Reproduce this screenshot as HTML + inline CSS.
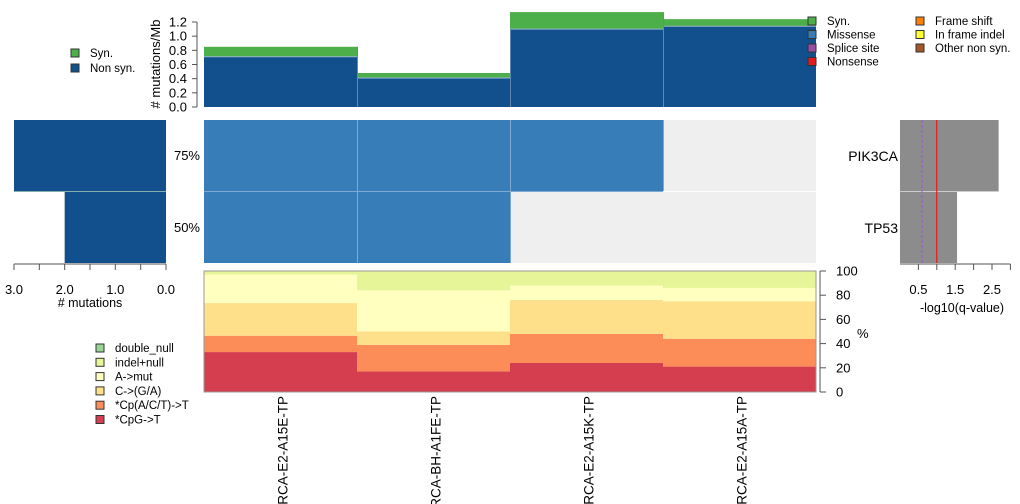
<!DOCTYPE html>
<html><head><meta charset="utf-8"><style>
body{margin:0;background:#fff;}
svg{display:block;font-family:"Liberation Sans",sans-serif;}
</style></head><body>
<svg id="c" width="1020" height="504" viewBox="0 0 1020 504" xmlns="http://www.w3.org/2000/svg"></svg>
<script>
const samples = ["BRCA-E2-A15E-TP","BRCA-BH-A1FE-TP","BRCA-E2-A15K-TP","BRCA-E2-A15A-TP"];
const nonSyn = [0.71, 0.41, 1.10, 1.14];
const syn = [0.14, 0.07, 0.24, 0.10];
const tmbTicks = [0,0.2,0.4,0.6,0.8,1.0,1.2];
const genes = ["PIK3CA","TP53"];
const genePct = ["75%","50%"];
const geneCounts = [3, 2];
const geneQ = [2.68, 1.55];
const qTicks = [0.5,1.5,2.5];
const countTicks = [3.0,2.0,1.0,0.0];
const mutated = [[1,1,1,0],[1,1,0,0]];
const cpg = [33, 17, 24, 21];
const cpa = [13.5, 22, 24, 23];
const cga = [27, 11, 28, 31];
const amut = [23.5, 34, 12, 11];
const indel = [3, 16, 12, 14];
const pctTicks = [0,20,40,60,80,100];

const svg = document.getElementById('c');
const NS = "http://www.w3.org/2000/svg";
function el(tag, attrs, parent){const e=document.createElementNS(NS,tag);for(const k in attrs)e.setAttribute(k,attrs[k]);(parent||svg).appendChild(e);return e;}
function txt(x,y,s,attrs,parent){const e=el('text',Object.assign({x:x,y:y,'font-size':12,fill:'#000'},attrs||{}),parent);e.textContent=s;return e;}

const X0=204, colW=153;
const colX=i=>X0+i*colW;
const tY=v=>107-v*(85/1.2);
const gTop=el('g',{});


samples.forEach((s,i)=>{
  const r1=el('rect',{x:colX(i),y:tY(nonSyn[i]),width:colW,height:tY(0)-tY(nonSyn[i]),fill:'#11508c'},gTop);
  
  
  const r2=el('rect',{x:colX(i),y:tY(nonSyn[i]+syn[i]),width:colW,height:tY(nonSyn[i])-tY(nonSyn[i]+syn[i]),fill:'#4daf4a'},gTop);
  
  
  el('line',{x1:colX(i),x2:colX(i)+colW,y1:tY(nonSyn[i]),y2:tY(nonSyn[i]),stroke:'#9ab6d2','stroke-width':1},gTop);
  if(i>0)el('line',{x1:colX(i)+.5,x2:colX(i)+.5,y1:tY(Math.max(nonSyn[i],nonSyn[i-1]+syn[i-1])),y2:107,stroke:'#5f88b3','stroke-width':1},gTop);
});
el('line',{x1:197,x2:197,y1:tY(0),y2:tY(1.2),stroke:'#555'});
tmbTicks.forEach(t=>{el('line',{x1:192,x2:197,y1:tY(t),y2:tY(t),stroke:'#555'});
  txt(187,tY(t)+4.5,t.toFixed(1),{'text-anchor':'end','font-size':13});});
const yt=txt(0,0,'# mutations/Mb',{transform:'translate(160,64) rotate(-90)','text-anchor':'middle','font-size':13});



function legend(x,y,color,label,name){const g=el('g',{});
  
  
  el('rect',{x:x,y:y-7,width:8,height:8,fill:color,stroke:'#333','stroke-width':1},g);
  txt(x+19,y+1,label,{'font-size':11.5},g); return g;}
legend(71,56,'#4daf4a','Syn.','legend-syn');
legend(71,71,'#11508c','Non syn.','legend-nonsyn');
[['#4daf4a','Syn.'],['#377eb8','Missense'],['#984ea3','Splice site'],['#e41a1c','Nonsense']].forEach((d,i)=>legend(808,24+i*13.5,d[0],d[1],'legend-'+d[1].toLowerCase().replace(/[^a-z]+/g,'-')));
[['#ff7f00','Frame shift'],['#ffff33','In frame indel'],['#a65628','Other non syn.']].forEach((d,i)=>legend(916,24+i*13.5,d[0],d[1],'legend-'+d[1].toLowerCase().replace(/[^a-z]+/g,'-')));

const rowY=[120,192], rowH=71;
genes.forEach((g,r)=>{
  samples.forEach((s,i)=>{
    const c=el('rect',{x:colX(i),y:rowY[r],width:colW,height:rowH,fill:mutated[r][i]?'#377eb8':'#efefef'});
    
    
  });
  txt(200,rowY[r]+40,genePct[r],{'text-anchor':'end','font-size':13});
  const gl=txt(898,rowY[r]+41,g,{'text-anchor':'end','font-size':14});
  
  
});
el('line',{x1:X0,x2:X0+colW*3,y1:191.5,y2:191.5,stroke:'#7fa9d0'});
[1,2,3].forEach(i=>el('line',{x1:colX(i)+.5,x2:colX(i)+.5,y1:120,y2:i<=2?263:191,stroke:'#7fa9d0'}));

const cX=v=>166-v*(152/3);
genes.forEach((g,r)=>{
  const b=el('rect',{x:cX(geneCounts[r]),y:rowY[r],width:cX(0)-cX(geneCounts[r]),height:rowH,fill:'#11508c'});
  
  
});
el('line',{x1:14,x2:166,y1:191.5,y2:191.5,stroke:'#8aa'});
el('line',{x1:cX(3),x2:cX(0),y1:264,y2:264,stroke:'#555'});
for(let v=0;v<=3;v+=0.5)el('line',{x1:cX(v),x2:cX(v),y1:264,y2:270,stroke:'#555'});
countTicks.forEach(t=>txt(cX(t),294,t.toFixed(1),{'text-anchor':'middle','font-size':13}));
txt(90,307,'# mutations',{'text-anchor':'middle','font-size':12.5});

const qX=v=>900+v*(18.4/0.5);
genes.forEach((g,r)=>{
  const b=el('rect',{x:900,y:rowY[r],width:qX(geneQ[r])-900,height:rowH,fill:'#8c8c8c'});
  
  
});
el('line',{x1:900,x2:qX(geneQ[0]),y1:191.5,y2:191.5,stroke:'#ccc'});
el('line',{x1:qX(0.6),x2:qX(0.6),y1:120,y2:263,stroke:'#9b59d0','stroke-dasharray':'3,2'});
el('line',{x1:qX(1),x2:qX(1),y1:120,y2:263,stroke:'#ff0000'});
el('line',{x1:900,x2:qX(3),y1:264,y2:264,stroke:'#555'});
for(let v=0.5;v<=3;v+=0.5)el('line',{x1:qX(v),x2:qX(v),y1:264,y2:270,stroke:'#555'});
qTicks.forEach(t=>txt(qX(t),294,t.toFixed(1),{'text-anchor':'middle','font-size':13}));
txt(962,312,'-log10(q-value)',{'text-anchor':'middle','font-size':12.5});

const pY=v=>392-v*1.21;
const layers=[[cpg,'#d53e4f','titv-cpg'],[cpa,'#fc8d59','titv-cpa'],[cga,'#fee08b','titv-c-ga'],[amut,'#ffffbf','titv-a-mut'],[indel,'#e6f598','titv-indel']];
samples.forEach((s,i)=>{
  let acc=0;
  layers.forEach(L=>{const v=L[0][i];
    const r=el('rect',{x:colX(i),y:pY(acc+v),width:colW,height:pY(acc)-pY(acc+v),fill:L[1]});
    
    
    acc+=v;});
  const sl=txt(0,0,s,{transform:`translate(${colX(i)+colW/2+7},396) rotate(-90)`,'text-anchor':'end','font-size':13.5});
  
  
});
el('rect',{x:204,y:271,width:612,height:121,fill:'none',stroke:'#999'});
el('line',{x1:820,x2:820,y1:pY(0),y2:pY(100),stroke:'#555'});
pctTicks.forEach(t=>{el('line',{x1:820,x2:826,y1:pY(t),y2:pY(t),stroke:'#555'});
  txt(836,pY(t)+4.5,String(t),{'font-size':13});});
txt(857,338,'%',{'font-size':13});
[['#99d594','double_null'],['#e6f598','indel+null'],['#ffffbf','A->mut'],['#fee08b','C->(G/A)'],['#fc8d59','*Cp(A/C/T)->T'],['#d53e4f','*CpG->T']].forEach((d,i)=>legend(96,351+i*14.3,d[0],d[1],'legend-titv-'+i));
</script>
</body></html>
